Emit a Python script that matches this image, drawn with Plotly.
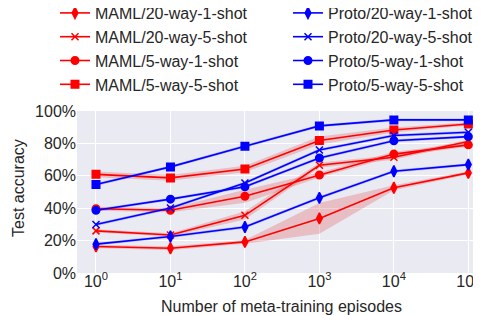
import plotly.graph_objects as go

episodes = [1, 10, 100, 1000, 10000, 100000]

maml_20_1 = [16.4, 15.3, 19.2, 33.7, 52.6, 61.8]
maml_20_5 = [26.0, 23.5, 35.6, 66.5, 71.4, 81.2]
maml_5_1 = [39.7, 38.7, 47.4, 60.5, 73.4, 79.1]
maml_5_5 = [60.9, 58.7, 64.2, 81.8, 88.3, 92.0]
proto_20_1 = [17.8, 22.5, 28.4, 46.4, 62.8, 66.9]
proto_20_5 = [29.9, 40.1, 55.6, 75.9, 84.9, 86.9]
proto_5_1 = [38.7, 45.6, 53.2, 71.0, 81.6, 84.2]
proto_5_5 = [54.6, 65.5, 78.3, 90.8, 94.5, 94.5]

maml_20_1_std = [1.0, 1.2, 1.2, 9.5, 1.5, 1.0]
maml_20_5_std = [1.0, 1.0, 2.5, 1.5, 1.5, 1.0]
maml_5_1_std = [1.2, 1.2, 4.0, 1.5, 1.5, 1.2]
maml_5_5_std = [1.8, 1.8, 2.0, 2.5, 1.5, 1.0]
proto_20_1_std = [0.9, 0.9, 0.9, 0.9, 0.9, 0.9]
proto_20_5_std = [0.9, 0.9, 0.9, 0.9, 0.9, 0.9]
proto_5_1_std = [0.9, 0.9, 0.9, 0.9, 0.9, 0.9]
proto_5_5_std = [0.9, 0.9, 0.9, 0.9, 0.9, 0.9]

series = [
    ("MAML/20-way-1-shot", maml_20_1, maml_20_1_std, "red", "diamond-tall", "legend"),
    ("MAML/20-way-5-shot", maml_20_5, maml_20_5_std, "red", "x-thin", "legend"),
    ("MAML/5-way-1-shot", maml_5_1, maml_5_1_std, "red", "circle", "legend"),
    ("MAML/5-way-5-shot", maml_5_5, maml_5_5_std, "red", "square", "legend"),
    ("Proto/20-way-1-shot", proto_20_1, proto_20_1_std, "blue", "diamond-tall", "legend2"),
    ("Proto/20-way-5-shot", proto_20_5, proto_20_5_std, "blue", "x-thin", "legend2"),
    ("Proto/5-way-1-shot", proto_5_1, proto_5_1_std, "blue", "circle", "legend2"),
    ("Proto/5-way-5-shot", proto_5_5, proto_5_5_std, "blue", "square", "legend2"),
]

band_col = {"red": "rgba(220,60,60,0.25)", "blue": "rgba(60,60,255,0.25)"}
line_col = {"red": "#FF0000", "blue": "#0000FF"}
msizes = {"diamond-tall": 8, "x-thin": 7, "circle": 7.5, "square": 7.5}

fig = go.Figure()
for name, vals, std, col, sym, leg in series:
    upper = [v + s for v, s in zip(vals, std)]
    lower = [v - s for v, s in zip(vals, std)]
    fig.add_trace(go.Scatter(
        x=episodes + episodes[::-1], y=upper + lower[::-1],
        fill="toself", fillcolor=band_col[col], line=dict(width=0),
        mode="lines", showlegend=False, hoverinfo="skip"))

for name, vals, std, col, sym, leg in series:
    fig.add_trace(go.Scatter(
        x=episodes, y=vals, name=name, mode="lines+markers",
        line=dict(color=line_col[col], width=1.6),
        marker=dict(symbol=sym, size=msizes[sym], color=line_col[col],
                    line=dict(color=line_col[col], width=1.5)),
        legend=leg))

W, H = 473, 307
L, T, B = 69, 103, 42
PH = H - T - B
FS = 16

font = "Liberation Sans, Arial, sans-serif"
fig.update_layout(
    width=W, height=H,
    margin=dict(l=L, r=0, t=T, b=B, autoexpand=False),
    paper_bgcolor="white", plot_bgcolor="#EAEAF2",
    font=dict(family=font, size=FS, color="#262626"),
    legend=dict(xref="container", yref="paper", x=47 / W, y=1 + (T + 12) / PH,
                xanchor="left", yanchor="top", bgcolor="rgba(0,0,0,0)",
                font=dict(size=FS, color="#262626"), tracegroupgap=0),
    legend2=dict(xref="container", yref="paper", x=280 / W, y=1 + (T + 12) / PH,
                 xanchor="left", yanchor="top", bgcolor="rgba(0,0,0,0)",
                 font=dict(size=FS, color="#262626"), tracegroupgap=0),
    xaxis=dict(type="log", range=[-0.255, 5.17], automargin=False,
               tickvals=episodes,
               ticktext=["10<sup>%d</sup>" % i for i in range(6)],
               showgrid=True, gridcolor="white", gridwidth=1.2,
               zeroline=False, showline=False, ticks="",
               ticklabelstandoff=-3,
               tickfont=dict(size=FS)),
    yaxis=dict(range=[0, 100], automargin=False,
               tickvals=[0, 20, 40, 60, 80, 100],
               ticktext=["0%", "20%", "40%", "60%", "80%", "100%"],
               showgrid=True, gridcolor="white", gridwidth=1.2,
               zeroline=False, showline=False, ticks="",
               tickfont=dict(size=FS)),
    annotations=[
        dict(text="Number of meta-training episodes", xref="paper", yref="paper",
             x=(273.5 - L) / (W - L), y=-(298.7 - (T + PH)) / PH,
             xanchor="center", yanchor="middle", showarrow=False,
             font=dict(size=FS, color="#262626")),
        dict(text="Test accuracy", xref="paper", yref="paper",
             x=-(L - 10) / (W - L), y=1 - (180 - T) / PH,
             xanchor="center", yanchor="middle", showarrow=False, textangle=-90,
             font=dict(size=FS, color="#262626")),
    ],
)

fig.write_html("out.html")
